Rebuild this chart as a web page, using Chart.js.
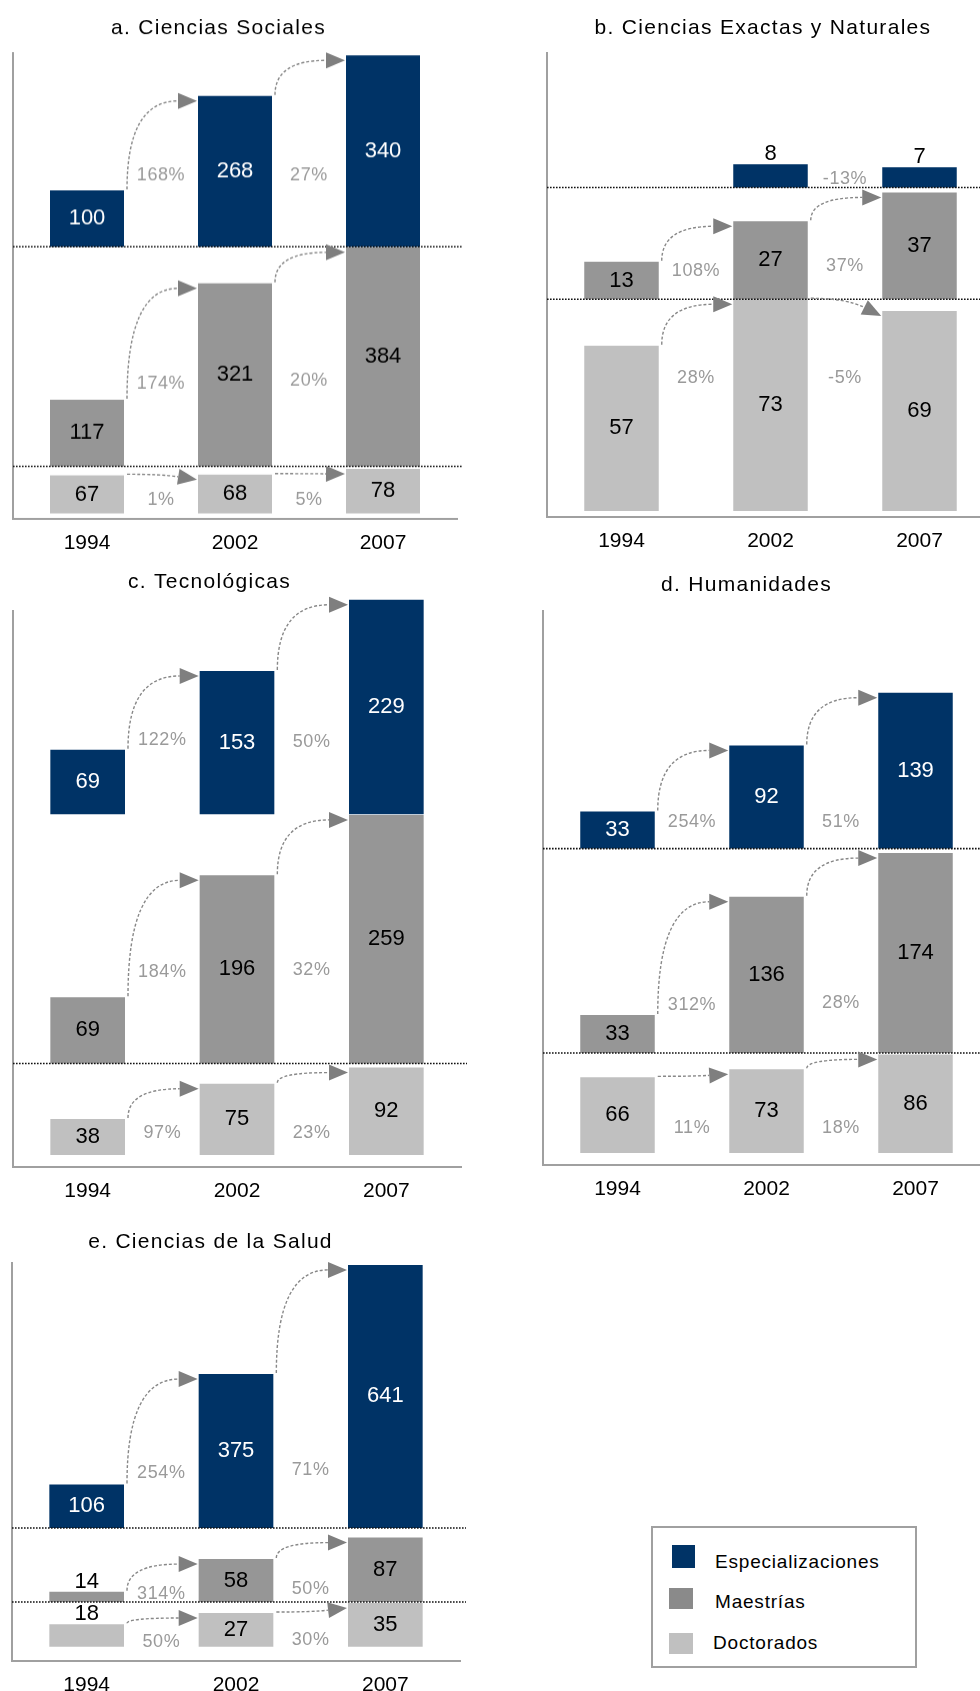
<!DOCTYPE html>
<html>
<head>
<meta charset="utf-8">
<script src="https://cdn.jsdelivr.net/npm/chart.js@4.4.0/dist/chart.umd.min.js"></script>
<style>
html, body { margin:0; padding:0; background:#fff; width:980px; height:1691px; overflow:hidden; position:relative; }
canvas { position:absolute; }
#legend { position:absolute; left:651px; top:1526px; width:262px; height:138px; border:2px solid #a0a0a0; background:#fff; font-family:'Liberation Sans', Arial, sans-serif; }
#legend .sw { position:absolute; }
#legend .tx { position:absolute; font-size:19px; letter-spacing:0.8px; color:#000; line-height:22px; white-space:nowrap; }
</style>
</head>
<body>
<div id="legend"></div>
<script>
// ---------- DATA ----------
const years = ['1994', '2002', '2007'];
const seriesNames = ['Especializaciones', 'Maestrías', 'Doctorados'];
const panelTitles = ['a. Ciencias Sociales', 'b. Ciencias Exactas y Naturales', 'c. Tecnológicas', 'd. Humanidades', 'e. Ciencias de la Salud'];

// a. Ciencias Sociales
const espA = [100, 268, 340];
const maeA = [117, 321, 384];
const docA = [67, 68, 78];
const pctEspA = ['168%', '27%'];
const pctMaeA = ['174%', '20%'];
const pctDocA = ['1%', '5%'];
const yEspA = [0, 344];
const yMaeA = [0, 385];
const yDocA = [-9.6, 82.5];

// b. Ciencias Exactas y Naturales
const espB = [null, 8, 7];
const maeB = [13, 27, 37];
const docB = [57, 73, 69];
const pctEspB = [null, '-13%'];
const pctMaeB = ['108%', '37%'];
const pctDocB = ['28%', '-5%'];
const yEspB = [0, 46.4];
const yMaeB = [0, 38.7];
const yDocB = [-2.07, 73];

// c. Tecnológicas
const espC = [69, 153, 229];
const maeC = [69, 196, 259];
const docC = [38, 75, 92];
const pctEspC = ['122%', '50%'];
const pctMaeC = ['184%', '32%'];
const pctDocC = ['97%', '23%'];
const yEspC = [0, 217];
const yMaeC = [0, 259.6];
const yDocC = [-12.6, 96.3];

// d. Humanidades
const espD = [33, 92, 139];
const maeD = [33, 136, 174];
const docD = [66, 73, 86];
const pctEspD = ['254%', '51%'];
const pctMaeD = ['312%', '28%'];
const pctDocD = ['11%', '18%'];
const yEspD = [0, 211.8];
const yMaeD = [0, 177.9];
const yDocD = [-10.4, 87.2];

// e. Ciencias de la Salud
const espE = [106, 375, 641];
const maeE = [14, 58, 87];
const docE = [18, 27, 35];
const pctEspE = ['254%', '71%'];
const pctMaeE = ['314%', '50%'];
const pctDocE = ['50%', '30%'];
const yEspE = [0, 645.6];
const yMaeE = [0, 100];
const yDocE = [-11.4, 35.8];

// ---------- STYLE / LAYOUT ----------
const barColors = ['#003366', '#969696', '#c0c0c0'];
const legendColors = ['#003366', '#8a8a8a', '#c0c0c0'];
const labelColors = ['#ffffff', '#000000', '#000000'];
const FONT = "'Liberation Sans', Arial, sans-serif";
Chart.defaults.font.family = FONT;
Chart.defaults.color = '#000';

// band order in arrays: [Especializaciones, Maestrías, Doctorados]
const layouts = [
  { left:13,  top:53,   width:444, bands:[193.5, 219.5, 52.5], title:[218.5, 28],  pctY:[[0.37,0.37],[0.378,0.392],[0.37,0.37]], upperLine:true,  noArrow:[] },
  { left:547, top:53,   width:447, bands:[134.5, 111.8, 217.7], title:[763, 28],   pctY:[[0.063,0.063],[0.25,0.30],[0.64,0.64]], upperLine:true, noArrow:['0-1'] },
  { left:13,  top:611,  width:448, bands:[203.3, 249.2, 103.5], title:[209.5, 582], pctY:[[0.365,0.356],[0.366,0.376],[0.33,0.33]], upperLine:false, noArrow:[] },
  { left:543, top:611,  width:447, bands:[237.6, 204.4, 112],   title:[746.5, 585], pctY:[[0.11,0.11],[0.237,0.245],[0.33,0.33]], upperLine:true, noArrow:[] },
  { left:12,  top:1263, width:448, bands:[265.1, 74.1, 59],     title:[210.5, 1242], pctY:[[0.206,0.22],[0.107,0.17],[0.33,0.36]], upperLine:true, noArrow:[] }
];

const panels = [
  { title: panelTitles[0], values:[espA, maeA, docA], pcts:[pctEspA, pctMaeA, pctDocA], ranges:[yEspA, yMaeA, yDocA] },
  { title: panelTitles[1], values:[espB, maeB, docB], pcts:[pctEspB, pctMaeB, pctDocB], ranges:[yEspB, yMaeB, yDocB] },
  { title: panelTitles[2], values:[espC, maeC, docC], pcts:[pctEspC, pctMaeC, pctDocC], ranges:[yEspC, yMaeC, yDocC] },
  { title: panelTitles[3], values:[espD, maeD, docD], pcts:[pctEspD, pctMaeD, pctDocD], ranges:[yEspD, yMaeD, yDocD] },
  { title: panelTitles[4], values:[espE, maeE, docE], pcts:[pctEspE, pctMaeE, pctDocE], ranges:[yEspE, yMaeE, yDocE] }
];

const axisIds = ['yE', 'yM', 'yD'];

function drawArrow(ctx, sx, sy, tx, ty) {
  let cx, cy;
  if (ty < sy - 4) { cx = sx; cy = ty; } else { cx = (sx + tx) / 2; cy = sy; }
  const ang = Math.atan2(ty - cy, tx - cx);
  const L = 19, W = 8;
  const bx = tx - L * Math.cos(ang), by = ty - L * Math.sin(ang);
  ctx.save();
  ctx.strokeStyle = '#888888';
  ctx.lineWidth = 1.4;
  ctx.setLineDash([3, 2]);
  ctx.beginPath();
  ctx.moveTo(sx, sy);
  ctx.quadraticCurveTo(cx, cy, bx, by);
  ctx.stroke();
  ctx.setLineDash([]);
  ctx.fillStyle = '#7f7f7f';
  ctx.beginPath();
  ctx.moveTo(tx, ty);
  ctx.lineTo(bx + W * Math.sin(ang), by - W * Math.cos(ang));
  ctx.lineTo(bx - W * Math.sin(ang), by + W * Math.cos(ang));
  ctx.closePath();
  ctx.fill();
  ctx.restore();
}

function makePanel(p, L) {
  const PT = 60, PL = 4, PR = 24, XH = 48;
  const plotH = L.bands[0] + L.bands[1] + L.bands[2];
  const W = L.width + PL + PR, H = plotH + PT + XH;
  const cLeft = L.left - PL, cTop = L.top - PT;
  const cv = document.createElement('canvas');
  cv.width = W; cv.height = H;
  cv.style.left = cLeft + 'px'; cv.style.top = cTop + 'px';
  cv.style.width = W + 'px'; cv.style.height = H + 'px';
  document.body.appendChild(cv);

  const datasets = p.values.map((vals, s) => ({
    label: seriesNames[s],
    data: vals,
    yAxisID: axisIds[s],
    backgroundColor: barColors[s],
    borderWidth: 0,
    grouped: false,
    clip: false,
    barPercentage: 0.5,
    categoryPercentage: 1.0
  }));

  const yOpt = (range, weight) => ({
    type: 'linear', position: 'left', stack: 'bands', stackWeight: weight,
    min: range[0], max: range[1],
    ticks: { display: false },
    grid: { display: false, drawTicks: false },
    border: { display: true, color: '#a0a0a0', width: 2 },
    afterFit: s => { s.width = 0; }
  });

  const annot = {
    id: 'annot',
    afterDatasetsDraw(chart) {
      const ctx = chart.ctx, ca = chart.chartArea, sc = chart.scales;
      // dotted band separators
      ctx.save();
      ctx.strokeStyle = '#111111';
      ctx.lineWidth = 1.6;
      ctx.setLineDash([1.6, 1.4]);
      const lines = [sc.yM.bottom];
      if (L.upperLine) lines.push(sc.yE.bottom);
      lines.forEach(y => { ctx.beginPath(); ctx.moveTo(ca.left, y); ctx.lineTo(ca.right + 6, y); ctx.stroke(); });
      ctx.restore();

      // arrows and percentage labels
      p.values.forEach((vals, s) => {
        const meta = chart.getDatasetMeta(s);
        const band = sc[axisIds[s]];
        for (let i = 0; i < 2; i++) {
          const v1 = vals[i], v2 = vals[i + 1];
          if (v1 != null && v2 != null && !L.noArrow.includes(s + '-' + i)) {
            const e1 = meta.data[i], e2 = meta.data[i + 1];
            drawArrow(ctx, e1.x + e1.width / 2 + 3, e1.y - 1, e2.x - e2.width / 2 - 1, e2.y + 5);
          }
          const txt = p.pcts[s][i];
          if (txt) {
            const x = (sc.x.getPixelForValue(i) + sc.x.getPixelForValue(i + 1)) / 2;
            const y = band.bottom - L.pctY[s][i] * (band.bottom - band.top);
            ctx.save();
            ctx.font = '18px ' + FONT;
            ctx.letterSpacing = '0.6px';
            ctx.fillStyle = '#9a9a9a';
            ctx.textAlign = 'center';
            ctx.textBaseline = 'middle';
            ctx.fillText(txt, x, y);
            ctx.restore();
          }
        }
      });

      // value labels
      p.values.forEach((vals, s) => {
        const meta = chart.getDatasetMeta(s);
        vals.forEach((v, i) => {
          if (v == null) return;
          const el = meta.data[i];
          const h = el.base - el.y;
          ctx.save();
          ctx.font = '22px ' + FONT;
          ctx.textAlign = 'center';
          ctx.textBaseline = 'middle';
          if (h < 24) {
            ctx.fillStyle = '#000';
            ctx.fillText(String(v), el.x, el.y - 10);
          } else {
            ctx.fillStyle = labelColors[s];
            ctx.fillText(String(v), el.x, (el.y + el.base) / 2);
          }
          ctx.restore();
        });
      });

      // title
      ctx.save();
      ctx.font = '21px ' + FONT;
      ctx.letterSpacing = '1.3px';
      ctx.fillStyle = '#000';
      ctx.textAlign = 'center';
      ctx.textBaseline = 'middle';
      ctx.fillText(p.title, L.title[0] - cLeft, L.title[1] - cTop);
      ctx.restore();
    }
  };

  new Chart(cv, {
    type: 'bar',
    data: { labels: years, datasets },
    options: {
      responsive: false,
      animation: false,
      layout: { padding: { top: PT, left: PL, right: PR, bottom: 0 } },
      plugins: { legend: { display: false }, tooltip: { enabled: false }, title: { display: false } },
      scales: {
        x: {
          grid: { display: false, drawTicks: false },
          border: { display: true, color: '#a0a0a0', width: 2 },
          ticks: { font: { size: 21 }, color: '#000', padding: 12 },
          afterFit: s => { s.height = XH; }
        },
        yD: yOpt(p.ranges[2], L.bands[2]),
        yM: yOpt(p.ranges[1], L.bands[1]),
        yE: yOpt(p.ranges[0], L.bands[0])
      }
    },
    plugins: [annot]
  });
}

panels.forEach((p, k) => makePanel(p, layouts[k]));

// legend
const lg = document.getElementById('legend');
const swBoxes = [[19, 17, 23, 23], [16, 60, 24, 21], [16, 105, 24, 21]];
const txPos = [[62, 23], [62, 63], [60, 104]];
seriesNames.forEach((n, i) => {
  const sw = document.createElement('div');
  sw.className = 'sw';
  sw.style.left = swBoxes[i][0] + 'px'; sw.style.top = swBoxes[i][1] + 'px';
  sw.style.width = swBoxes[i][2] + 'px'; sw.style.height = swBoxes[i][3] + 'px';
  sw.style.background = legendColors[i];
  lg.appendChild(sw);
  const tx = document.createElement('div');
  tx.className = 'tx';
  tx.style.left = txPos[i][0] + 'px'; tx.style.top = txPos[i][1] + 'px';
  tx.textContent = n;
  lg.appendChild(tx);
});
</script>
</body>
</html>
